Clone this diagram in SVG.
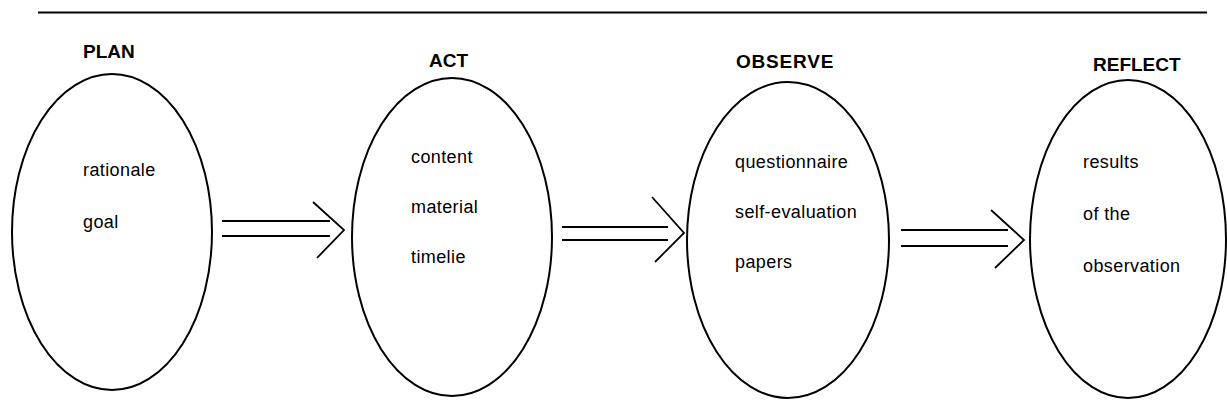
<svg xmlns="http://www.w3.org/2000/svg" width="1227" height="418" viewBox="0 0 1227 418">
<style>
.bg{fill:#ffffff}
.node ellipse{fill:none;stroke:#000;stroke-width:2}
.title{font-family:"Liberation Sans",Arial,sans-serif;font-weight:bold;font-size:19px;fill:#000}
.item{font-family:"Liberation Sans",Arial,sans-serif;font-size:18px;fill:#000;letter-spacing:0.4px}
.conn line,.conn polyline{fill:none;stroke:#000;stroke-width:1.8}
.rule{stroke:#000;stroke-width:1.8}
</style>
<rect class="bg" x="0" y="0" width="1227" height="418"/>
<line class="rule" x1="38" y1="12.5" x2="1207" y2="12.5"/>
<g id="plan" class="node">
<text class="title" x="83" y="58">PLAN</text>
<ellipse cx="112" cy="232" rx="100" ry="158"/>
<text class="item" x="83" y="176">rationale</text>
<text class="item" x="83" y="228">goal</text>
</g>
<g id="act" class="node">
<text class="title" x="429" y="67">ACT</text>
<ellipse cx="452" cy="237" rx="100" ry="159"/>
<text class="item" x="411" y="163">content</text>
<text class="item" x="411" y="213">material</text>
<text class="item" x="411" y="263">timelie</text>
</g>
<g id="observe" class="node">
<text class="title" x="736" y="68" letter-spacing="0.8">OBSERVE</text>
<ellipse cx="788" cy="240" rx="101" ry="158"/>
<text class="item" x="735" y="168">questionnaire</text>
<text class="item" x="735" y="218">self-evaluation</text>
<text class="item" x="735" y="268">papers</text>
</g>
<g id="reflect" class="node">
<text class="title" x="1093" y="71">REFLECT</text>
<ellipse cx="1128" cy="239" rx="98" ry="159"/>
<text class="item" x="1083" y="168">results</text>
<text class="item" x="1083" y="220">of the</text>
<text class="item" x="1083" y="272">observation</text>
</g>
<g id="connectors" class="conn">
<line x1="222" y1="221" x2="330" y2="221"/>
<line x1="222" y1="236" x2="330" y2="236"/>
<polyline points="313,202 344,230 317,258"/>
<line x1="562" y1="227" x2="668" y2="227"/>
<line x1="562" y1="240" x2="668" y2="240"/>
<polyline points="652,197 684,233 655,262"/>
<line x1="901" y1="230" x2="1008" y2="230"/>
<line x1="901" y1="246" x2="1008" y2="246"/>
<polyline points="991,210 1024,240 995,268"/>
</g>
</svg>
